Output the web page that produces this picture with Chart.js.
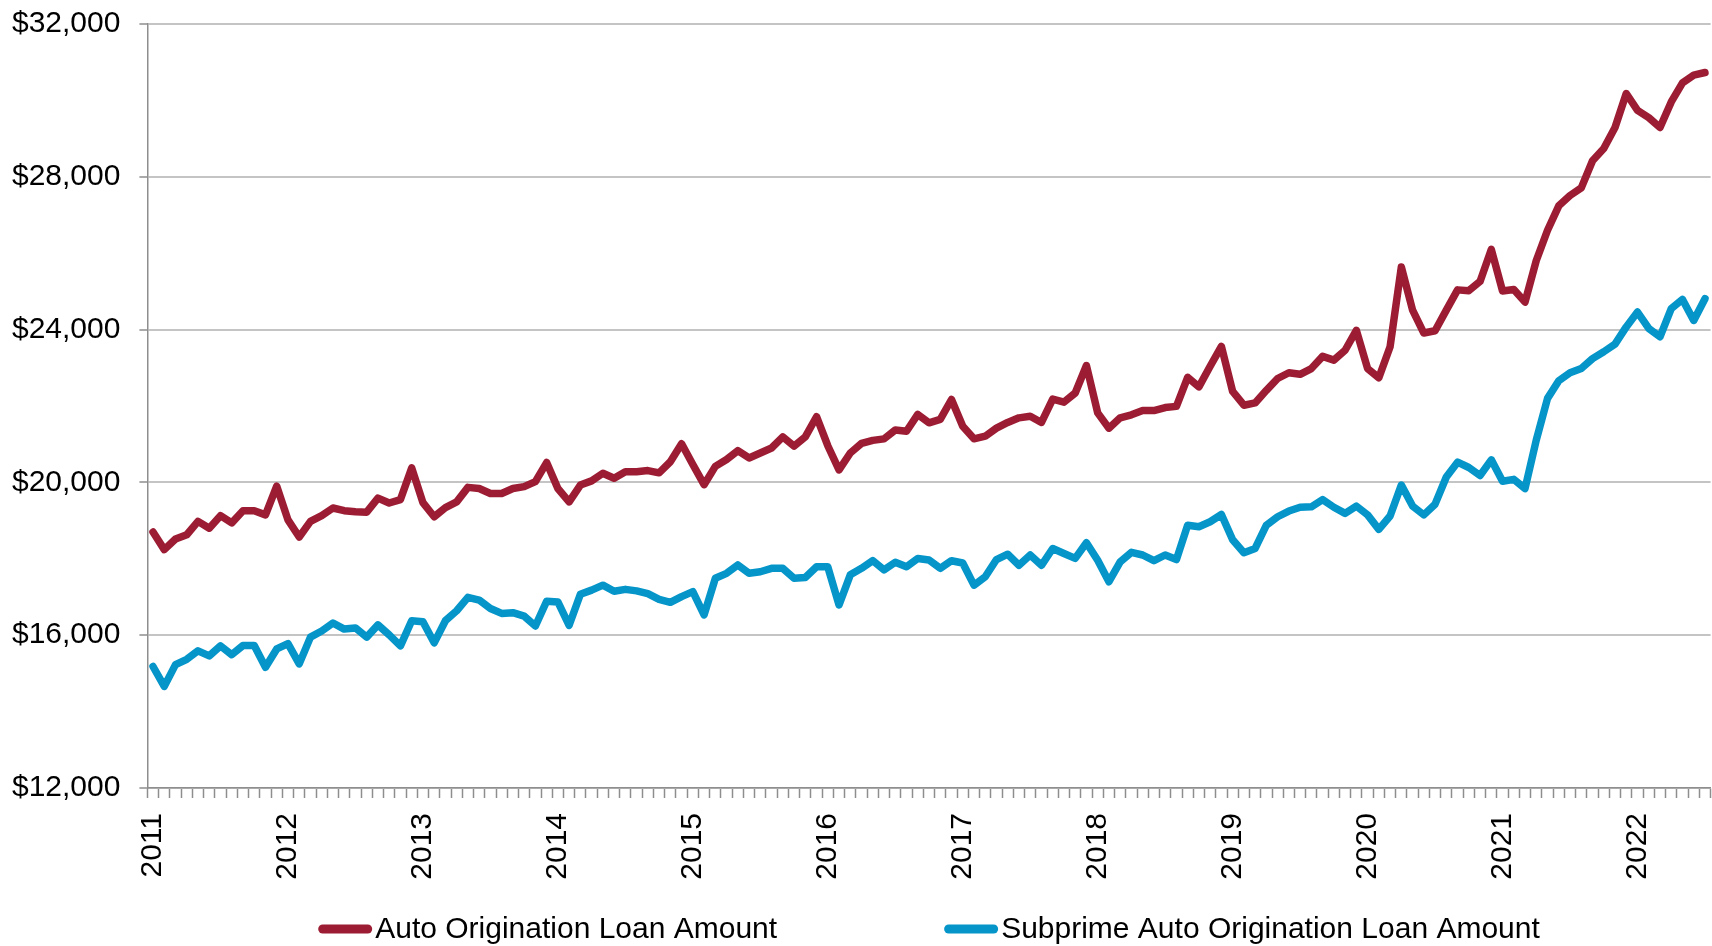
<!DOCTYPE html>
<html>
<head>
<meta charset="utf-8">
<script src="https://cdn.jsdelivr.net/npm/chart.js@4.4.1/dist/chart.umd.min.js"></script>
<style>
html,body{margin:0;padding:0;background:#ffffff;}
#wrap{width:1712px;height:946px;position:relative;}
</style>
</head>
<body>
<div id="wrap"><canvas id="c" width="1712" height="946"></canvas></div>
<script>
const FONT = '"Liberation Sans", Arial, Helvetica, sans-serif';

const yearLabels = ['2011','2012','2013','2014','2015','2016','2017','2018','2019','2020','2021','2022'];
const monthNames = ['Jan','Feb','Mar','Apr','May','Jun','Jul','Aug','Sep','Oct','Nov','Dec'];
const monthCount = 139; // Jan 2011 .. Jul 2022
const categories = [];
yearLabels.forEach(y => monthNames.forEach(m => categories.push(m + ' ' + y)));
categories.length = monthCount;

const autoLoan = [
  18700,18240,18520,18630,18980,18800,19130,18940,19260,19260,19150,19900,
  19020,18570,18980,19130,19330,19260,19230,19220,19590,19460,19550,20380,
  19470,19100,19340,19490,19870,19840,19710,19710,19840,19890,20020,20520,
  19840,19490,19930,20040,20240,20110,20280,20280,20310,20250,20540,21010,
  20470,19940,20420,20600,20830,20640,20770,20900,21190,20950,21190,21720,
  20960,20330,20770,21020,21100,21140,21370,21340,21780,21560,21650,22170,
  21470,21140,21210,21420,21570,21690,21730,21570,22180,22100,22340,23060,
  21820,21420,21690,21770,21880,21880,21960,21990,22750,22500,23040,23560,
  22380,22020,22080,22410,22720,22870,22830,22980,23300,23200,23460,23980,
  22980,22740,23550,25640,24510,23910,23970,24510,25040,25020,25260,26100,
  25010,25050,24720,25810,26600,27240,27510,27710,28420,28740,29290,30180,
  29740,29550,29290,29960,30460,30660,30730
];

const subprimeLoan = [
  15180,14660,15230,15370,15590,15460,15720,15490,15730,15730,15160,15640,
  15780,15250,15950,16110,16320,16160,16190,15950,16270,16010,15720,16380,
  16350,15800,16380,16640,16990,16920,16700,16570,16590,16500,16240,16890,
  16870,16260,17070,17180,17310,17150,17200,17160,17090,16940,16860,17010,
  17140,16530,17490,17620,17840,17620,17660,17750,17750,17490,17510,17790,
  17790,16790,17580,17750,17950,17710,17910,17790,18010,17970,17750,17950,
  17890,17310,17530,17980,18120,17830,18100,17830,18270,18140,18010,18420,
  17960,17400,17920,18170,18100,17950,18100,17980,18880,18840,18970,19160,
  18500,18160,18270,18880,19100,19250,19350,19360,19550,19350,19190,19380,
  19150,18770,19120,19930,19380,19150,19430,20140,20530,20390,20180,20590,
  20030,20080,19840,21110,22200,22660,22870,22980,23240,23420,23620,24070,
  24460,24030,23810,24550,24790,24240,24810
];

const yTickValues = [12000,16000,20000,24000,28000,32000];
const seriesNames = ['Auto Origination Loan Amount','Subprime Auto Origination Loan Amount'];
const seriesColors = ['#9C1C33','#0595C9'];

const legendPlugin = {
  id: 'customLegend',
  afterDraw(chart) {
    const ctx = chart.ctx;
    const ca = chart.chartArea;
    ctx.save();
    ctx.font = '30px ' + FONT;
    const sw = 54, gap = 3, itemGap = 167, lw = 9, y = 929;
    const items = chart.data.datasets.map(d => ({label: d.label, color: d.borderColor, w: ctx.measureText(d.label).width}));
    const total = items.reduce((a, it) => a + sw + gap + it.w, 0) + itemGap * (items.length - 1);
    let x = (ca.left + ca.right) / 2 - total / 2;
    items.forEach(it => {
      ctx.strokeStyle = it.color;
      ctx.lineWidth = lw;
      ctx.lineCap = 'round';
      ctx.beginPath();
      ctx.moveTo(x + lw / 2, y);
      ctx.lineTo(x + sw - lw / 2, y);
      ctx.stroke();
      ctx.fillStyle = '#000';
      ctx.textBaseline = 'middle';
      ctx.textAlign = 'left';
      ctx.fillText(it.label, x + sw + gap, y + 1);
      x += sw + gap + it.w + itemGap;
    });
    ctx.restore();
  }
};

const ds = (i, data) => ({
  label: seriesNames[i],
  data: data,
  borderColor: seriesColors[i],
  backgroundColor: seriesColors[i],
  borderWidth: 7.5,
  pointRadius: 0,
  pointHoverRadius: 0,
  tension: 0,
  fill: false,
  borderJoinStyle: 'round',
  borderCapStyle: 'round'
});

const zeroPad = s => { s.paddingLeft = 0; s.paddingRight = 0; s.paddingTop = 0; s.paddingBottom = 0; };

new Chart(document.getElementById('c').getContext('2d'), {
  type: 'line',
  data: {
    labels: categories,
    datasets: [ds(0, autoLoan), ds(1, subprimeLoan)]
  },
  options: {
    responsive: false,
    animation: false,
    devicePixelRatio: 1,
    layout: {padding: {left: 0, right: 1.4, top: 24, bottom: 58}},
    plugins: {legend: {display: false}, tooltip: {enabled: false}},
    scales: {
      x: {
        type: 'category',
        offset: true,
        grid: {offset: true, drawOnChartArea: false, drawTicks: true, tickLength: 10, tickColor: '#8E8E8E', tickWidth: 1.5},
        border: {display: true, color: '#8E8E8E', width: 1.5},
        ticks: {
          autoSkip: false, maxRotation: 90, minRotation: 90, padding: 15, color: '#000',
          font: {family: FONT, size: 30},
          callback: (v, i) => (i % 12 === 0 ? yearLabels[i / 12] : '')
        },
        afterFit: s => { s.height = 100; zeroPad(s); }
      },
      y: {
        min: 12000, max: 32000,
        afterBuildTicks: s => { s.ticks = yTickValues.map(v => ({value: v})); },
        grid: {color: '#C4C4C4', lineWidth: 2, drawTicks: true, tickLength: 8, tickColor: '#8E8E8E', tickWidth: 1.5},
        border: {display: true, color: '#8E8E8E', width: 1.5},
        ticks: {
          padding: 19, color: '#000',
          font: {family: FONT, size: 30},
          callback: v => '$' + Number(v).toLocaleString('en-US')
        },
        afterFit: s => { s.width = 147.4; zeroPad(s); }
      }
    }
  },
  plugins: [legendPlugin]
});
</script>
</body>
</html>
